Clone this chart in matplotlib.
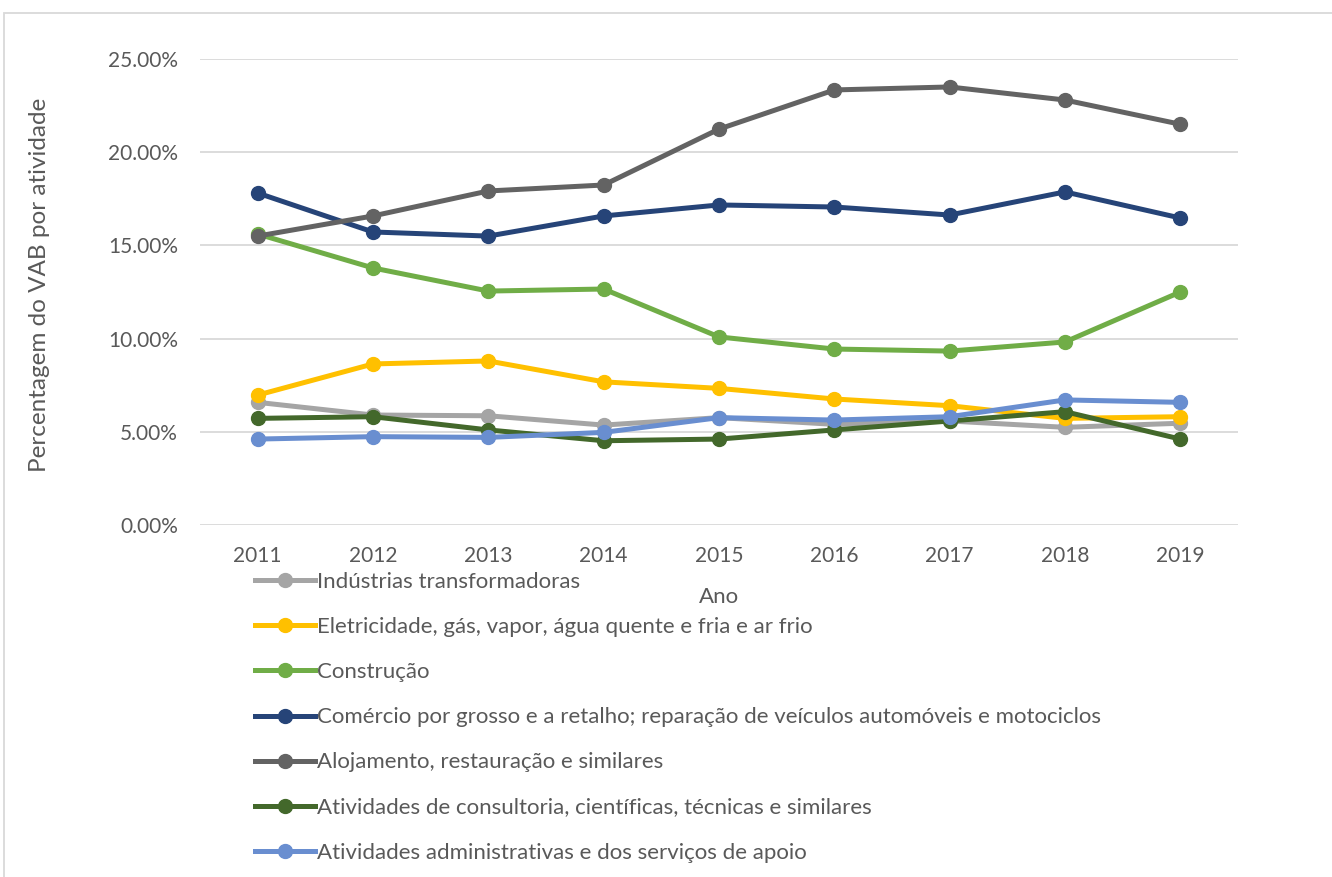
import matplotlib
matplotlib.use("Agg")
import matplotlib.pyplot as plt
from matplotlib.patches import Rectangle
from matplotlib.ticker import PercentFormatter

plt.rcParams['font.family'] = ['Lato', 'DejaVu Sans']

anos = ['2011', '2012', '2013', '2014', '2015', '2016', '2017', '2018', '2019']

industrias = [6.58, 5.90, 5.86, 5.36, 5.76, 5.40, 5.58, 5.24, 5.46]
eletricidade = [6.97, 8.64, 8.80, 7.68, 7.33, 6.76, 6.40, 5.72, 5.81]
construcao = [15.61, 13.79, 12.55, 12.66, 10.09, 9.44, 9.33, 9.82, 12.50]
comercio = [17.81, 15.72, 15.50, 16.58, 17.17, 17.06, 16.63, 17.87, 16.47]
alojamento = [15.50, 16.58, 17.92, 18.24, 21.24, 23.34, 23.50, 22.80, 21.50]
consultoria = [5.72, 5.81, 5.10, 4.52, 4.61, 5.10, 5.58, 6.08, 4.61]
administrativas = [4.61, 4.74, 4.70, 4.97, 5.76, 5.63, 5.81, 6.71, 6.58]

series = [
    ('Indústrias transformadoras', industrias, '#A5A5A5'),
    ('Eletricidade, gás, vapor, água quente e fria e ar frio', eletricidade, '#FFC000'),
    ('Construção', construcao, '#70AD47'),
    ('Comércio por grosso e a retalho; reparação de veículos automóveis e motociclos', comercio, '#264478'),
    ('Alojamento, restauração e similares', alojamento, '#636363'),
    ('Atividades de consultoria, científicas, técnicas e similares', consultoria, '#43682B'),
    ('Atividades administrativas e dos serviços de apoio', administrativas, '#698ED0'),
]

txt = '#595959'
fig = plt.figure(figsize=(13.32, 8.77), dpi=100)
ax = fig.add_axes([200/1332, 1-525/877, 1038/1332, 466/877])

x = range(len(anos))
for nome, vals, cor in series:
    ax.plot(x, [v/100 for v in vals], color=cor, lw=3.6, marker='o', ms=10, label=nome, zorder=3)

ax.set_xlim(-0.5, len(anos)-0.5)
ax.set_ylim(0, 0.25)
ax.set_yticks([0, 0.05, 0.10, 0.15, 0.20, 0.25])
ax.yaxis.set_major_formatter(PercentFormatter(1.0, decimals=2))
ax.set_xticks(list(x))
ax.set_xticklabels(anos)
ax.grid(axis='y', color='#d9d9d9', lw=1.3, zorder=0)
ax.set_axisbelow(True)
for s in ax.spines.values():
    s.set_visible(False)
ax.tick_params(length=0, labelsize=15, colors=txt)
ax.tick_params(axis='x', pad=15)
ax.tick_params(axis='y', pad=16)

fig.text(40/1332, 1-285/877, 'Percentagem do VAB por atividade', rotation=90,
         ha='center', va='center', fontsize=17.5, color=txt)
fig.text(719/1332, 1-597/877, 'Ano', ha='center', va='center', fontsize=16, color=txt)

fig.legend(loc='upper left', bbox_to_anchor=(255/1332, 1-572/877), frameon=False,
           fontsize=16, labelcolor=txt, handlelength=2.7, handletextpad=0.1,
           labelspacing=1.13, borderaxespad=0, borderpad=0)

fig.patches.append(Rectangle((4/1332, -0.05), 1.2, 1-13/877+0.05, transform=fig.transFigure,
                             fill=False, edgecolor='#d9d9d9', lw=1.3))

fig.savefig('out.png', dpi=100, facecolor='white')
